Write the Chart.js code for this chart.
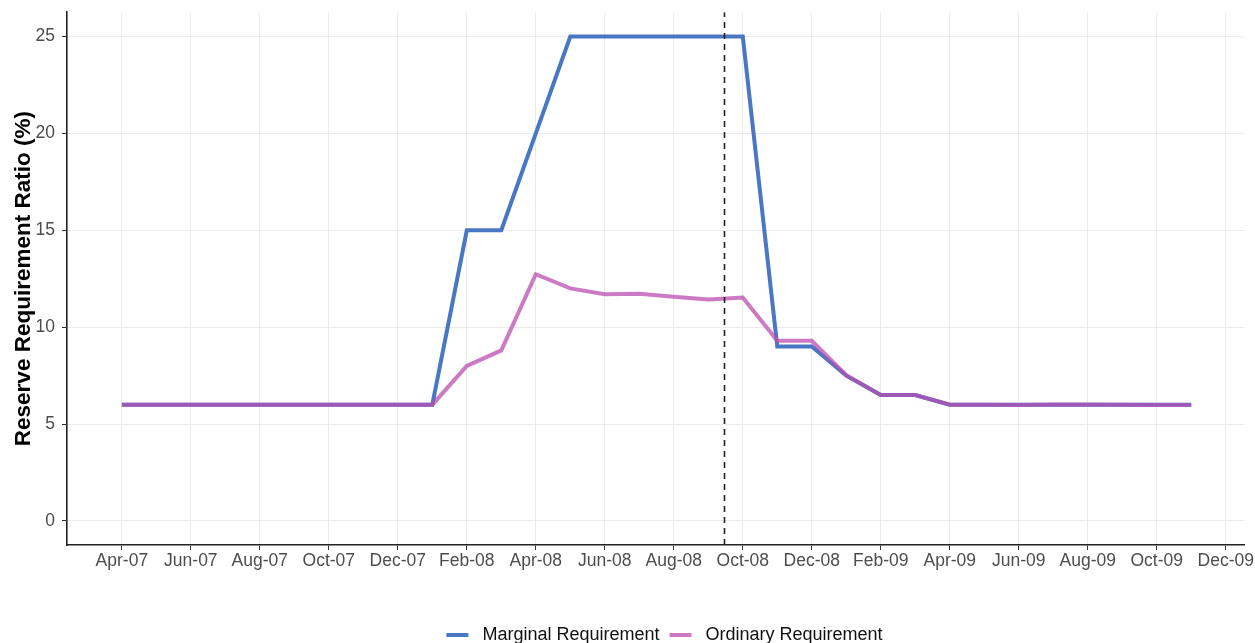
<!DOCTYPE html>
<html>
<head>
<meta charset="utf-8">
<script src="https://cdn.jsdelivr.net/npm/chart.js@4.4.1/dist/chart.umd.min.js"></script>
<style>
  html, body { margin: 0; padding: 0; background: #ffffff; }
  #wrap { width: 1255px; height: 643px; position: relative; }
</style>
</head>
<body>
<div id="wrap"><canvas id="c"></canvas></div>
<script>
// Month labels (index 0 = Apr-07)
const monthLabels = [
  'Apr-07','May-07','Jun-07','Jul-07','Aug-07','Sep-07','Oct-07','Nov-07','Dec-07','Jan-08',
  'Feb-08','Mar-08','Apr-08','May-08','Jun-08','Jul-08','Aug-08','Sep-08','Oct-08','Nov-08',
  'Dec-08','Jan-09','Feb-09','Mar-09','Apr-09','May-09','Jun-09','Jul-09','Aug-09','Sep-09',
  'Oct-09','Nov-09','Dec-09'
];
// Series values, Apr-07 .. Nov-09
const marginalRequirement = [
  6, 6, 6, 6, 6, 6, 6, 6, 6, 6,
  15, 15, 20, 25, 25, 25, 25, 25, 25, 9,
  9, 7.5, 6.5, 6.5, 6, 6, 6, 6, 6, 6,
  6, 6
];
const ordinaryRequirement = [
  6, 6, 6, 6, 6, 6, 6, 6, 6, 6,
  8.0, 8.8, 12.73, 12.0, 11.7, 11.72, 11.57, 11.43, 11.53, 9.3,
  9.3, 7.52, 6.5, 6.5, 6.0, 6.0, 5.99, 6.01, 6.01, 6.0,
  5.99, 5.99
];
// Event marker (mid-September 2008), in month-index units
const eventMonth = 17.47;
const yTicks = [0, 5, 10, 15, 20, 25];
const xTickIdx = [0, 2, 4, 6, 8, 10, 12, 14, 16, 18, 20, 22, 24, 26, 28, 30, 32];

const Y_MIN = -1.24, Y_MAX = 26.25;
const X_MIN = -1.59, X_MAX = 32.55;

const toPts = arr => arr.map((v, i) => ({ x: i, y: v }));

const BLUE = '#4a77c4';
const PINK = 'rgba(187, 78, 176, 0.75)';
const PINK_LEG = '#cc7ac4';
const FONT = 'Liberation Sans, Arial, sans-serif';

// shifts the bottom legend so it is centred on the plotting panel
const legendShift = {
  id: 'legendShift',
  afterLayout(chart) {
    const lg = chart.legend;
    if (lg) { lg.left += 39; lg.right += 39; }
  }
};

new Chart(document.getElementById('c'), {
  type: 'line',
  plugins: [legendShift],
  data: {
    datasets: [
      {
        label: 'Marginal Requirement',
        data: toPts(marginalRequirement),
        borderColor: BLUE, backgroundColor: BLUE,
        borderWidth: 4, pointRadius: 0, tension: 0, borderJoinStyle: 'miter',
        order: 2
      },
      {
        label: 'Ordinary Requirement',
        data: toPts(ordinaryRequirement),
        borderColor: PINK, backgroundColor: PINK_LEG,
        borderWidth: 4, pointRadius: 0, tension: 0, borderJoinStyle: 'miter',
        order: 1
      },
      {
        label: 'event',
        data: [{ x: eventMonth, y: Y_MIN }, { x: eventMonth, y: Y_MAX }],
        borderColor: '#222222', borderWidth: 1.6, borderDash: [6, 5],
        pointRadius: 0,
        order: 0
      }
    ]
  },
  options: {
    responsive: true,
    maintainAspectRatio: false,
    animation: false,
    layout: { padding: { left: 0, right: 4, top: 6, bottom: -11 } },
    plugins: {
      tooltip: { enabled: false },
      legend: {
        position: 'bottom',
        labels: {
          boxWidth: 22, boxHeight: 4,
          padding: 10,
          color: '#111111',
          font: { family: FONT, size: 18 },
          sort: (a, b) => a.datasetIndex - b.datasetIndex,
          generateLabels: chart => {
            const items = Chart.defaults.plugins.legend.labels.generateLabels(chart);
            return items.filter(it => it.text !== 'event').map(it => {
              it.text = ' ' + it.text;
              it.lineWidth = 0;
              return it;
            });
          }
        }
      }
    },
    scales: {
      x: {
        type: 'linear',
        min: X_MIN, max: X_MAX,
        afterBuildTicks: s => { s.ticks = xTickIdx.map(v => ({ value: v })); },
        afterFit: s => { s.height = 71; },
        ticks: {
          autoSkip: false, maxRotation: 0,
          color: '#4d4d4d', padding: 1,
          font: { family: FONT, size: 17.5 },
          callback: v => monthLabels[v]
        },
        grid: { color: '#ebebeb', lineWidth: 1, tickColor: '#333333', tickLength: 5, drawOnChartArea: true },
        border: { display: true, color: '#222222', width: 1.6 }
      },
      y: {
        min: Y_MIN, max: Y_MAX,
        afterBuildTicks: s => { s.ticks = yTicks.map(v => ({ value: v })); },
        afterFit: s => { s.width = 67; },
        title: {
          display: true,
          text: 'Reserve Requirement Ratio (%)',
          color: '#000000',
          padding: { top: 10, bottom: 0 },
          font: { family: FONT, size: 22.5, weight: 'bold' }
        },
        ticks: {
          color: '#4d4d4d', padding: 7,
          font: { family: FONT, size: 17.5, lineHeight: 0.6 }
        },
        grid: { color: '#ebebeb', lineWidth: 1, tickColor: '#333333', tickLength: 5 },
        border: { display: true, color: '#222222', width: 1.6 }
      }
    }
  }
});
</script>
</body>
</html>
